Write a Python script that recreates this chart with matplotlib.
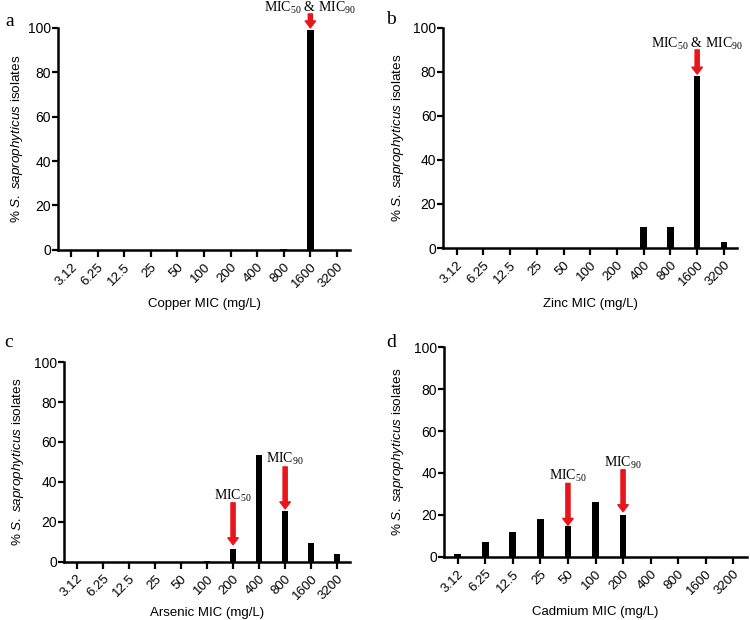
import numpy as np
import matplotlib.pyplot as plt

plt.rcParams['font.family'] = 'Liberation Sans'
plt.rcParams['mathtext.fontset'] = 'custom'
plt.rcParams['mathtext.it'] = 'Liberation Sans:italic'
plt.rcParams['mathtext.rm'] = 'Liberation Serif'

mic_labels = ['3.12', '6.25', '12.5', '25', '50', '100', '200', '400', '800', '1600', '3200']

copper = [0, 0, 0, 0, 0, 0, 0, 0, 0.5, 99, 0]
zinc = [0, 0, 0, 0, 0, 0, 0, 9.5, 9.5, 78, 2.5]
arsenic = [0, 0, 0, 0, 0, 0.5, 6.5, 53.5, 25.5, 9.5, 4]
cadmium = [1.5, 7, 12, 18, 14.5, 26, 20, 0, 0, 0, 0]

metals = ['Copper', 'Zinc', 'Arsenic', 'Cadmium']
panel = ['a', 'b', 'c', 'd']
values = [copper, zinc, arsenic, cadmium]

# (text, bar index, text baseline y, arrow tail y, arrow head y)
marks = [
    [('MIC$_{50}$ & MIC$_{90}$', 9, 107.3, 106.3, 100)],
    [('MIC$_{50}$ & MIC$_{90}$', 9, 91, 90, 79)],
    [('MIC$_{50}$', 6, 31, 29.5, 8.5), ('MIC$_{90}$', 8, 49.5, 47.5, 26.5)],
    [('MIC$_{50}$', 4, 36.7, 35, 15), ('MIC$_{90}$', 6, 43, 41.5, 21.5)],
]

boxes = [
    [0.077, 0.597, 0.390, 0.358],
    [0.591, 0.600, 0.392, 0.355],
    [0.085, 0.094, 0.382, 0.322],
    [0.592, 0.102, 0.404, 0.338],
]
ylab_x = [-0.112, -0.126, -0.133, -0.125]
xlab_y = [-0.245, -0.255, -0.255, -0.265]
panel_xy = [(0.007, 0.966), (0.515, 0.968), (0.006, 0.447), (0.515, 0.448)]

fig = plt.figure(figsize=(7.5, 6.2), dpi=100)
x = np.arange(len(mic_labels))

for i in range(4):
    ax = fig.add_axes(boxes[i])
    ax.bar(x, values[i], width=0.25, color='black')
    ax.set_xlim(-0.5, 10.5)
    ax.set_ylim(0, 100)
    ax.set_yticks([0, 20, 40, 60, 80, 100])
    ax.set_xticks(x)
    ax.set_xticklabels(mic_labels, rotation=45, ha='right', rotation_mode='anchor', fontsize=9.5)
    ax.tick_params(axis='y', labelsize=10, width=1.6, length=4, pad=1)
    ax.tick_params(axis='x', width=1.6, length=5, pad=3)
    for s in ['top', 'right']:
        ax.spines[s].set_visible(False)
    for s in ['left', 'bottom']:
        ax.spines[s].set_linewidth(1.8)
    ax.set_ylabel(r'% $\it{S.\ saprophyticus}$ isolates', fontsize=9.7)
    ax.yaxis.set_label_coords(ylab_x[i], 0.5)
    ax.set_xlabel(metals[i] + ' MIC (mg/L)', fontsize=9.5, va='center')
    ax.xaxis.set_label_coords(0.5, xlab_y[i])
    fig.text(panel_xy[i][0], panel_xy[i][1], panel[i], fontsize=14,
             family='Liberation Serif', ha='left', va='center')
    for txt, idx, ty, tail, head in marks[i]:
        ax.text(idx, ty, txt, ha='center', va='baseline', fontsize=10,
                family='Liberation Serif', clip_on=False)
        ax.annotate('', xy=(idx, head), xytext=(idx, tail), annotation_clip=False,
                    arrowprops=dict(facecolor='#e8161b', edgecolor='#e8161b',
                                    width=3, headwidth=7.5, headlength=5, shrink=0))

fig.savefig('out.png', dpi=100)
